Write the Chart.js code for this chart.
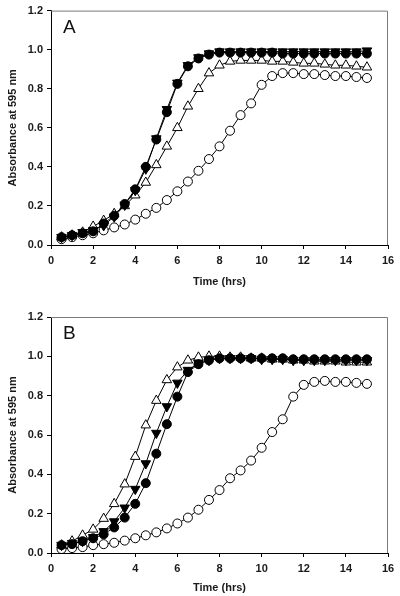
<!DOCTYPE html>
<html>
<head>
<meta charset="utf-8">
<title>Growth curves</title>
<script src="https://cdn.jsdelivr.net/npm/chart.js@4.4.1/dist/chart.umd.min.js"></script>
<style>
  html, body { margin: 0; padding: 0; background: #fff; }
  #wrap { position: relative; width: 400px; height: 596px; }
  canvas { position: absolute; left: 0; }
  #chartA { top: 0; }
  #chartB { top: 300px; }
</style>
</head>
<body>
<div id="wrap">
  <canvas id="chartA" width="400" height="300"></canvas>
  <canvas id="chartB" width="400" height="296"></canvas>
</div>
<script>
// Sampling times (hrs)
const timeHrs = [0.5, 1, 1.5, 2, 2.5, 3, 3.5, 4, 4.5, 5, 5.5, 6, 6.5, 7, 7.5,
                 8, 8.5, 9, 9.5, 10, 10.5, 11, 11.5, 12, 12.5, 13, 13.5, 14, 14.5, 15];

const xTicks = [0, 2, 4, 6, 8, 10, 12, 14, 16];
const yTicks = [0.0, 0.2, 0.4, 0.6, 0.8, 1.0, 1.2];

// Panel A
const aFilledCircle = [0.04, 0.05, 0.06, 0.07, 0.11, 0.15, 0.21, 0.285, 0.40, 0.54, 0.68, 0.825, 0.915, 0.955, 0.975,
                       0.985, 0.985, 0.985, 0.985, 0.985, 0.985, 0.98, 0.98, 0.98, 0.98, 0.98, 0.98, 0.98, 0.98, 0.98];
const aFilledTriangle = [0.04, 0.05, 0.065, 0.075, 0.10, 0.145, 0.205, 0.28, 0.39, 0.545, 0.695, 0.83, 0.92, 0.96, 0.98,
                         0.99, 0.99, 0.99, 0.99, 0.99, 0.99, 0.99, 0.99, 0.99, 0.99, 0.99, 0.99, 0.99, 0.99, 0.995];
const aOpenTriangle = [0.04, 0.05, 0.065, 0.095, 0.125, 0.16, 0.20, 0.255, 0.32, 0.41, 0.505, 0.60, 0.71, 0.80, 0.88,
                       0.92, 0.94, 0.945, 0.945, 0.945, 0.94, 0.94, 0.935, 0.93, 0.93, 0.925, 0.92, 0.92, 0.915, 0.91];
const aOpenCircle = [0.03, 0.04, 0.05, 0.06, 0.075, 0.09, 0.105, 0.13, 0.16, 0.19, 0.23, 0.275, 0.325, 0.38, 0.44,
                     0.505, 0.585, 0.665, 0.725, 0.82, 0.865, 0.88, 0.88, 0.875, 0.875, 0.87, 0.865, 0.865, 0.86, 0.855];

// Panel B
const bFilledCircle = [0.04, 0.045, 0.06, 0.075, 0.095, 0.13, 0.18, 0.25, 0.355, 0.505, 0.655, 0.795, 0.92, 0.96, 0.98,
                       0.99, 0.99, 0.99, 0.99, 0.99, 0.99, 0.99, 0.985, 0.985, 0.985, 0.985, 0.985, 0.985, 0.985, 0.985];
const bFilledTriangle = [0.04, 0.05, 0.06, 0.08, 0.11, 0.16, 0.23, 0.325, 0.455, 0.61, 0.745, 0.865, 0.93, 0.965, 0.98,
                         0.99, 0.99, 0.99, 0.99, 0.985, 0.985, 0.985, 0.98, 0.98, 0.98, 0.98, 0.98, 0.98, 0.98, 0.98];
const bOpenTriangle = [0.04, 0.06, 0.09, 0.12, 0.175, 0.25, 0.35, 0.49, 0.65, 0.775, 0.88, 0.945, 0.98, 0.995, 1.0,
                       1.0, 0.995, 0.995, 0.99, 0.99, 0.985, 0.985, 0.98, 0.98, 0.975, 0.975, 0.975, 0.97, 0.97, 0.97];
const bOpenCircle = [0.02, 0.025, 0.03, 0.04, 0.045, 0.052, 0.063, 0.075, 0.09, 0.105, 0.125, 0.15, 0.18, 0.22, 0.27,
                     0.32, 0.38, 0.42, 0.47, 0.535, 0.615, 0.68, 0.795, 0.855, 0.87, 0.875, 0.87, 0.87, 0.865, 0.86];

const FONT = "'Liberation Sans', Arial, sans-serif";
Chart.defaults.font.family = FONT;
Chart.defaults.color = '#1a1a1a';

function toPoints(values) {
    return timeHrs.map((t, i) => ({ x: t, y: values[i] }));
}

function series(values, style, filled, order) {
    const isTri = style !== 'circle';
    return {
        data: toPoints(values),
        borderColor: '#000',
        borderWidth: 1,
        pointStyle: isTri ? 'triangle' : 'circle',
        rotation: style === 'invTriangle' ? 180 : 0,
        pointRadius: isTri ? 5.5 : 4.5,
        pointBorderWidth: 1,
        pointBorderColor: '#000',
        pointBackgroundColor: filled ? '#000' : '#fff',
        tension: 0,
        fill: false,
        order: order
    };
}

// gray frame on top and right + the panel letter
const framePlugin = {
    id: 'frame',
    afterDraw(chart, args, opts) {
        const { ctx, chartArea: a } = chart;
        ctx.save();
        ctx.strokeStyle = '#7a7a7a';
        ctx.lineWidth = 1;
        ctx.beginPath();
        ctx.moveTo(a.left, a.top + 0.5);
        ctx.lineTo(a.right - 0.5, a.top + 0.5);
        ctx.lineTo(a.right - 0.5, a.bottom);
        ctx.stroke();
        ctx.fillStyle = '#111';
        ctx.font = '19px ' + FONT;
        ctx.textBaseline = 'middle';
        ctx.fillText(opts.letter, a.left + 12, a.top + 17);
        ctx.restore();
    }
};

function makePanel(id, letter, sets, padTop, xHeight, titlePad) {
    const canvas = document.getElementById(id);
    return new Chart(canvas.getContext('2d'), {
        type: 'line',
        data: { datasets: sets },
        options: {
            responsive: false,
            animation: false,
            layout: { padding: { top: padTop, right: 12, left: 0, bottom: 0 } },
            plugins: {
                legend: { display: false },
                tooltip: { enabled: false },
                frame: { letter: letter }
            },
            scales: {
                x: {
                    type: 'linear',
                    min: 0,
                    max: 16,
                    afterFit: s => { s.height = xHeight; },
                    afterBuildTicks: s => { s.ticks = xTicks.map(v => ({ value: v })); },
                    grid: { drawOnChartArea: false, drawTicks: true, tickLength: 4, color: '#000' },
                    border: { display: true, color: '#000', width: 1 },
                    ticks: { padding: 5, maxRotation: 0, font: { size: 11, weight: 'bold' } },
                    title: {
                        display: true,
                        text: 'Time (hrs)',
                        font: { size: 11, weight: 'bold' },
                        padding: { top: 0, bottom: titlePad }
                    }
                },
                y: {
                    type: 'linear',
                    min: 0,
                    max: 1.2,
                    afterFit: s => { s.width = 51; },
                    afterBuildTicks: s => { s.ticks = yTicks.map(v => ({ value: v })); },
                    grid: { drawOnChartArea: false, drawTicks: true, tickLength: 4, color: '#000' },
                    border: { display: true, color: '#000', width: 1 },
                    ticks: {
                        padding: 4,
                        font: { size: 11, weight: 'bold' },
                        callback: v => v.toFixed(1)
                    },
                    title: {
                        display: true,
                        text: 'Absorbance at 595 nm',
                        font: { size: 11, weight: 'bold' },
                        padding: { top: 6, bottom: 0 }
                    }
                }
            }
        },
        plugins: [framePlugin]
    });
}

makePanel('chartA', 'A', [
    series(aFilledCircle, 'circle', true, 0),
    series(aFilledTriangle, 'invTriangle', true, 1),
    series(aOpenTriangle, 'triangle', false, 2),
    series(aOpenCircle, 'circle', false, 3)
], 8, 55, 11);

makePanel('chartB', 'B', [
    series(bFilledCircle, 'circle', true, 0),
    series(bFilledTriangle, 'invTriangle', true, 1),
    series(bOpenTriangle, 'triangle', false, 2),
    series(bOpenCircle, 'circle', false, 3)
], 17, 43, 1);
</script>
</body>
</html>
